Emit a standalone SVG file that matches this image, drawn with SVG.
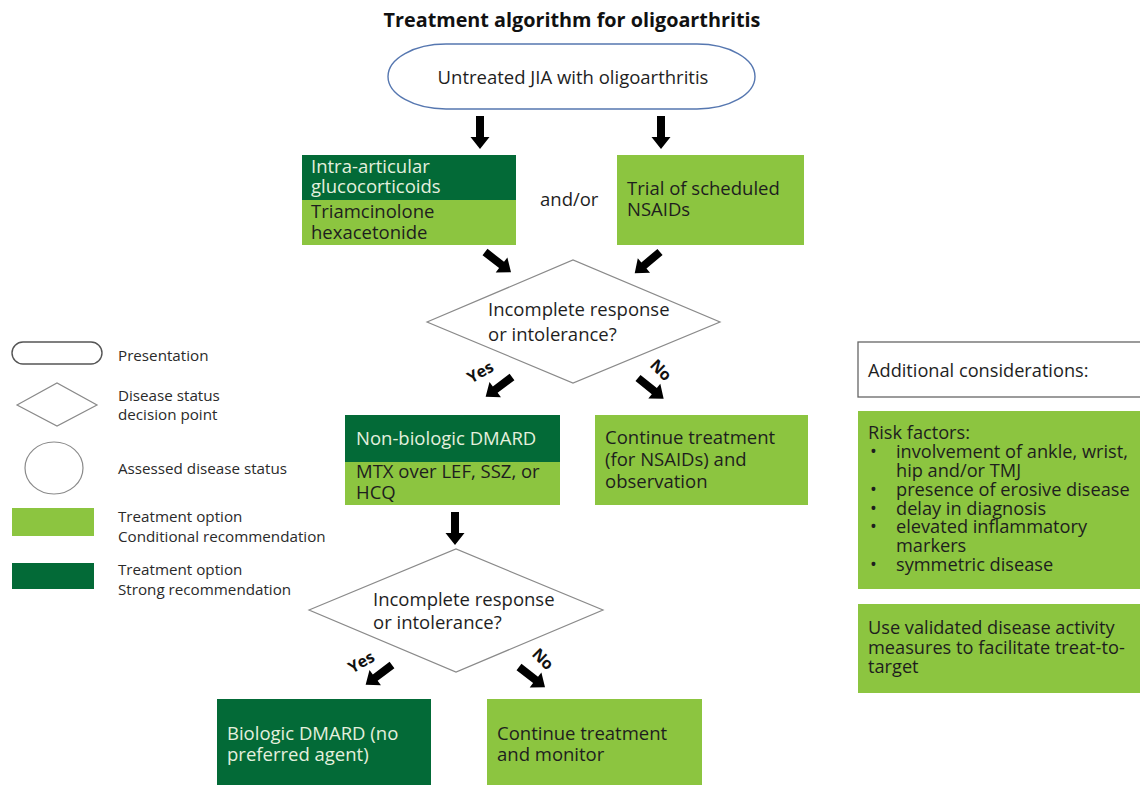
<svg xmlns="http://www.w3.org/2000/svg" xmlns:xlink="http://www.w3.org/1999/xlink" width="1140" height="785" viewBox="0 0 1140 785">
<defs>
<style>
text{font-family:"Open Sans","Noto Sans","Liberation Sans",sans-serif;}
.t{font-size:18.5px;fill:#1e1e1e;}
.tl{font-size:18.5px;fill:#e4f0de;}
.r{font-size:18.2px;fill:#1e1e1e;}
.lg{font-size:15.2px;fill:#2a2a2a;}
.lab{font-size:16px;font-weight:bold;fill:#111;}
.light{fill:#8cc540;}
.dark{fill:#036a37;}
.dia{fill:#fff;stroke:#8a8a8a;stroke-width:1.2;}
.arr{fill:#000;}
</style>
<path id="arr" d="M-4,0 H4 V21 H9.5 L0,33 L-9.5,21 H-4 Z"/>
</defs>
<rect width="1140" height="785" fill="#fff"/>
<text x="572" y="27" text-anchor="middle" style="font-size:19.8px;font-weight:bold;fill:#111">Treatment algorithm for oligoarthritis</text>

<g id="start">
<rect x="388" y="44" width="367" height="65" rx="58" ry="32.5" fill="#fff" stroke="#5677b0" stroke-width="1.4"/>
<text class="t" x="573" y="84" text-anchor="middle">Untreated JIA with oligoarthritis</text>
</g>

<g id="iaglucocorticoids">
<rect class="dark" x="302" y="155" width="214" height="45"/>
<rect class="light" x="302" y="200" width="214" height="45"/>
<text class="tl" x="311" y="173">Intra-articular</text>
<text class="tl" x="311" y="193">glucocorticoids</text>
<text class="t" x="311" y="218">Triamcinolone</text>
<text class="t" x="311" y="239">hexacetonide</text>
</g>
<text class="t" x="540" y="206">and/or</text>
<g id="nsaids">
<rect class="light" x="617" y="155" width="187" height="90"/>
<text class="t" x="627" y="195">Trial of scheduled</text>
<text class="t" x="627" y="216">NSAIDs</text>
</g>

<g id="decision1">
<polygon class="dia" points="427,322 573,260 720,322 573,383"/>
<text class="t" x="488" y="316">Incomplete response</text>
<text class="t" x="488" y="341">or intolerance?</text>
</g>

<g id="nonbiologic">
<rect class="light" x="345" y="415" width="215" height="90"/>
<rect class="dark" x="345" y="415" width="215" height="47"/>
<text class="tl" x="356" y="445">Non-biologic DMARD</text>
<text class="t" x="356" y="478">MTX over LEF, SSZ, or</text>
<text class="t" x="356" y="499">HCQ</text>
</g>

<g id="continue1">
<rect class="light" x="595" y="415" width="213" height="90"/>
<text class="t" x="605" y="444">Continue treatment</text>
<text class="t" x="605" y="466">(for NSAIDs) and</text>
<text class="t" x="605" y="488">observation</text>
</g>

<g id="decision2">
<polygon class="dia" points="309,610 456,549 603,610 456,672"/>
<text class="t" x="373" y="606">Incomplete response</text>
<text class="t" x="373" y="629">or intolerance?</text>
</g>

<g id="biologic">
<rect class="dark" x="217" y="699" width="214" height="90"/>
<text class="tl" x="227" y="740">Biologic DMARD (no</text>
<text class="tl" x="227" y="761">preferred agent)</text>
</g>

<g id="continue2">
<rect class="light" x="487" y="699" width="215" height="90"/>
<text class="t" x="497" y="740">Continue treatment</text>
<text class="t" x="497" y="761">and monitor</text>
</g>

<g id="connectors" class="arr">
<use xlink:href="#arr" transform="translate(480,116)"/>
<use xlink:href="#arr" transform="translate(661,116)"/>
<use xlink:href="#arr" transform="translate(485,252) rotate(-52)"/>
<use xlink:href="#arr" transform="translate(660,252) rotate(50)"/>
<use xlink:href="#arr" transform="translate(512,377) rotate(53)"/>
<use xlink:href="#arr" transform="translate(638,378) rotate(-51)"/>
<use xlink:href="#arr" transform="translate(455,512)"/>
<use xlink:href="#arr" transform="translate(392,665) rotate(53)"/>
<use xlink:href="#arr" transform="translate(519,667) rotate(-52)"/>
<text class="lab" transform="translate(483,377) rotate(-30)" text-anchor="middle">Yes</text>
<text class="lab" transform="translate(657,374) rotate(45)" text-anchor="middle">No</text>
<text class="lab" transform="translate(364,667) rotate(-30)" text-anchor="middle">Yes</text>
<text class="lab" transform="translate(539,663) rotate(45)" text-anchor="middle">No</text>
</g>

<g id="legend">
<rect x="12" y="342" width="90" height="22" rx="11" fill="#fff" stroke="#555" stroke-width="1.4"/>
<text class="lg" x="118" y="361">Presentation</text>
<polygon class="dia" points="17,405 57,383 97,405 57,426"/>
<text class="lg" x="118" y="401">Disease status</text>
<text class="lg" x="118" y="420">decision point</text>
<ellipse cx="54" cy="468" rx="29" ry="26" fill="#fff" stroke="#8a8a8a" stroke-width="1.2"/>
<text class="lg" x="118" y="474">Assessed disease status</text>
<rect class="light" x="12" y="508" width="82" height="28"/>
<text class="lg" x="118" y="522">Treatment option</text>
<text class="lg" x="118" y="542">Conditional recommendation</text>
<rect class="dark" x="12" y="563" width="82" height="26"/>
<text class="lg" x="118" y="575">Treatment option</text>
<text class="lg" x="118" y="595">Strong recommendation</text>
</g>

<g id="additional">
<rect x="858" y="342" width="290" height="55" fill="#fff" stroke="#666" stroke-width="1.3"/>
<text class="r" x="868" y="377">Additional considerations:</text>
</g>
<g id="riskfactors">
<rect class="light" x="858" y="411" width="290" height="178"/>
<text class="r" x="868" y="439">Risk factors:</text>
<text class="r" y="458"><tspan x="870">•</tspan><tspan x="896">involvement of ankle, wrist,</tspan></text>
<text class="r" x="896" y="477">hip and/or TMJ</text>
<text class="r" y="496"><tspan x="870">•</tspan><tspan x="896">presence of erosive disease</tspan></text>
<text class="r" y="515"><tspan x="870">•</tspan><tspan x="896">delay in diagnosis</tspan></text>
<text class="r" y="533"><tspan x="870">•</tspan><tspan x="896">elevated inflammatory</tspan></text>
<text class="r" x="896" y="552">markers</text>
<text class="r" y="571"><tspan x="870">•</tspan><tspan x="896">symmetric disease</tspan></text>
</g>
<g id="measures">
<rect class="light" x="858" y="604" width="290" height="89"/>
<text class="r" x="868" y="634">Use validated disease activity</text>
<text class="r" x="868" y="654">measures to facilitate treat-to-</text>
<text class="r" x="868" y="673">target</text>
</g>
</svg>
